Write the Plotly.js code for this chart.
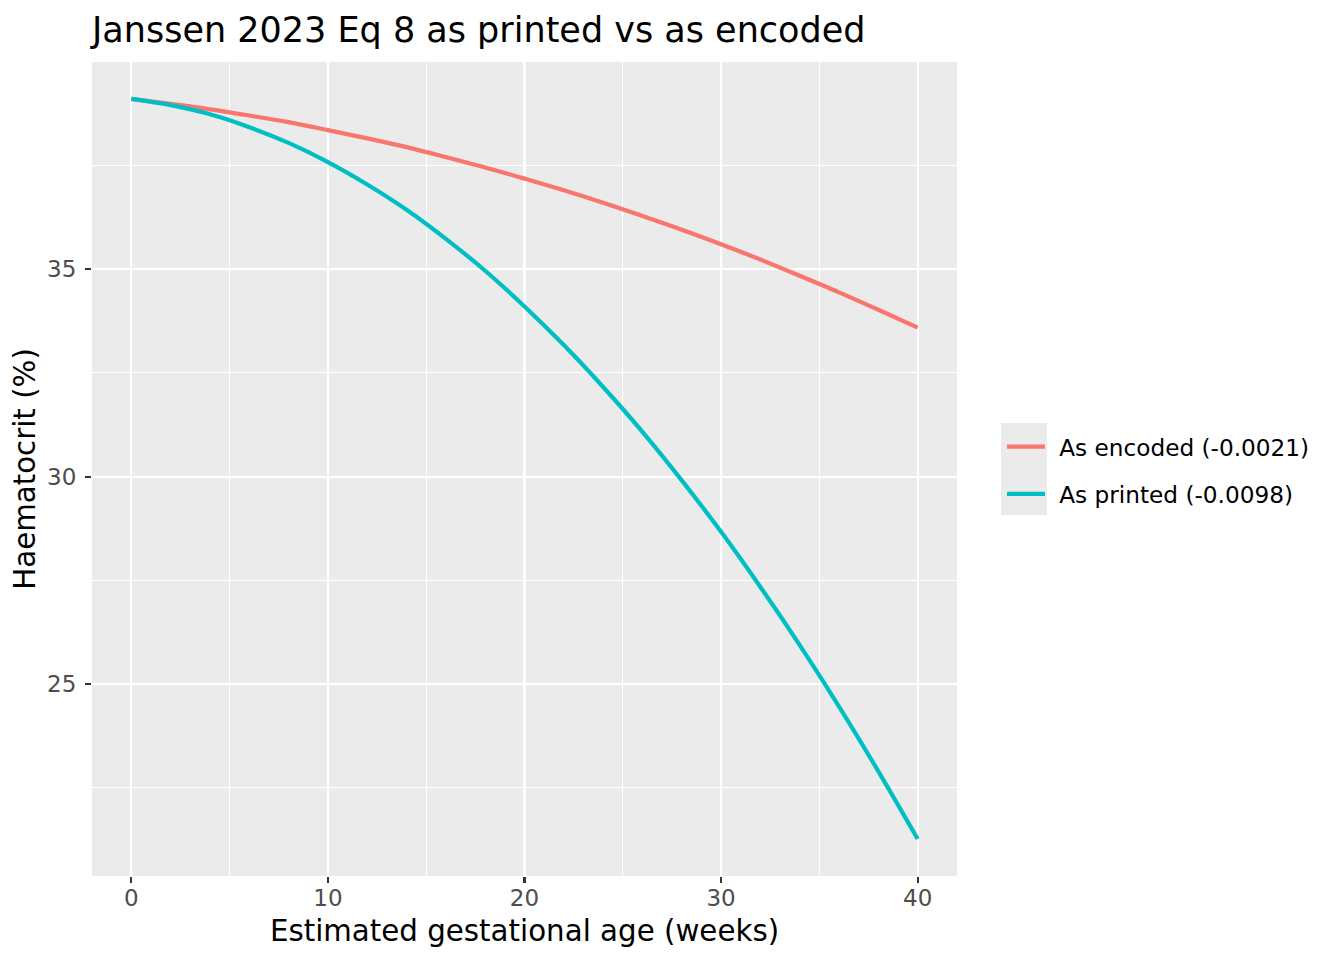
<!DOCTYPE html>
<html>
<head>
<meta charset="utf-8">
<script src="https://cdn.plot.ly/plotly-3.0.1.min.js"></script>
<style>html,body{margin:0;padding:0;background:#fff;}#chart{width:1344px;height:960px;}</style>
</head>
<body>
<div id="chart"></div>
<script>
// Gestational age (weeks)
const weeks = [0, 2, 4, 6, 8, 10, 12, 14, 16, 18, 20, 22, 24, 26, 28, 30, 32, 34, 36, 38, 40];
// Haematocrit (%)
const encodedHct = [39.10, 38.98, 38.85, 38.70, 38.54, 38.35, 38.15, 37.94, 37.70, 37.45, 37.18,
                    36.90, 36.60, 36.28, 35.95, 35.60, 35.23, 34.84, 34.44, 34.02, 33.59];
const printedHct = [39.10, 38.95, 38.73, 38.42, 38.04, 37.58, 37.04, 36.43, 35.73, 34.96, 34.10,
                    33.17, 32.16, 31.08, 29.91, 28.67, 27.34, 25.94, 24.46, 22.90, 21.27];
const seriesNames = ['As encoded (-0.0021)', 'As printed (-0.0098)'];
const seriesColors = ['#F8766D', '#00BFC4'];
const xTicks = [0, 10, 20, 30, 40];
const yTicks = [25, 30, 35];

const FONT = 'DejaVu Sans, Liberation Sans, sans-serif';
const PAD = '\u2009\u2009';

const traces = [
  {x: weeks, y: encodedHct, name: PAD + seriesNames[0], mode: 'lines', type: 'scatter',
   line: {color: seriesColors[0], width: 4.2, shape: 'spline', smoothing: 1}, legendgroup: 'a'},
  {x: weeks, y: printedHct, name: PAD + seriesNames[1], mode: 'lines', type: 'scatter',
   line: {color: seriesColors[1], width: 4.2, shape: 'spline', smoothing: 1}, legendgroup: 'b'}
];

const layout = {
  width: 1344, height: 960,
  margin: {l: 92, r: 387, t: 62, b: 84, pad: 0},
  paper_bgcolor: '#ffffff',
  plot_bgcolor: '#EBEBEB',
  font: {family: FONT, color: '#000000'},
  title: {
    text: 'Janssen 2023 Eq 8 as printed vs as encoded',
    font: {family: FONT, size: 35, color: '#000000'},
    xref: 'paper', x: 0, xanchor: 'left',
    yref: 'container', y: 1 - 29.4 / 960, yanchor: 'middle'
  },
  xaxis: {
    range: [-2, 42],
    tickvals: xTicks, ticktext: xTicks.map(String),
    ticks: 'outside', ticklen: 6, tickwidth: 2.2, tickcolor: '#333333',
    ticklabelstandoff: -5,
    tickfont: {family: FONT, size: 23, color: '#4D4D4D'},
    showgrid: true, gridcolor: '#FFFFFF', gridwidth: 2.2,
    minor: {tickvals: [5, 15, 25, 35], showgrid: true, gridcolor: '#FFFFFF', gridwidth: 1.1, ticks: ''},
    zeroline: false, showline: false,
    title: {text: 'Estimated gestational age (weeks)', font: {family: FONT, size: 29.3, color: '#000000'}, standoff: 10},
    automargin: false
  },
  yaxis: {
    range: [20.378, 39.99],
    tickvals: yTicks, ticktext: yTicks.map(String),
    ticks: 'outside', ticklen: 6, tickwidth: 2.2, tickcolor: '#333333',
    ticklabelstandoff: 4,
    tickfont: {family: FONT, size: 23, color: '#4D4D4D'},
    showgrid: true, gridcolor: '#FFFFFF', gridwidth: 2.2,
    minor: {tickvals: [22.5, 27.5, 32.5, 37.5], showgrid: true, gridcolor: '#FFFFFF', gridwidth: 1.1, ticks: ''},
    zeroline: false, showline: false,
    title: {text: 'Haematocrit (%)', font: {family: FONT, size: 29.3, color: '#000000'}, standoff: 2},
    automargin: false
  },
  showlegend: true,
  legend: {
    x: (1002 - 92) / 865, xanchor: 'left', xref: 'paper',
    y: 0.498, yanchor: 'middle',
    bgcolor: 'rgba(0,0,0,0)', borderwidth: 0,
    font: {family: FONT, size: 23.2, color: '#000000'},
    itemwidth: 38, tracegroupgap: 14,
    title: {text: ''}
  },
  shapes: [
    {type: 'rect', xref: 'paper', yref: 'paper', layer: 'below',
     x0: (1001 - 92) / 865, x1: (1047 - 92) / 865,
     y0: (876 - 515) / 814, y1: (876 - 423) / 814,
     fillcolor: '#EBEBEB', line: {width: 0}}
  ]
};

Plotly.newPlot('chart', traces, layout, {displayModeBar: false, staticPlot: true});
</script>
</body>
</html>
